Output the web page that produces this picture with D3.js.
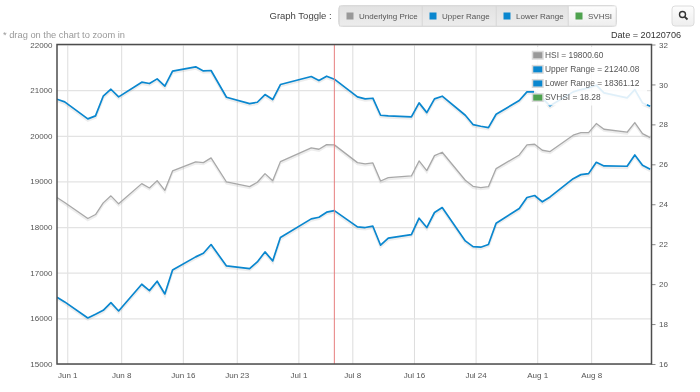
<!DOCTYPE html>
<html>
<head>
<meta charset="utf-8">
<script src="https://cdn.jsdelivr.net/npm/d3@7"></script>
<style>
    html, body { margin: 0; padding: 0; background: #fff; }
    svg { display: block; font-family: "Liberation Sans", Helvetica, Arial, sans-serif; filter: blur(0.3px); }
    .axis text { fill: #555; font-size: 8px; }
    .axis path { display: none; }
</style>
</head>
<body>
<div id="chart"></div>
<script>
const dates = ['05-31','06-01','06-04','06-05','06-06','06-07','06-08','06-11','06-12','06-13','06-14','06-15',
    '06-18','06-19','06-20','06-22','06-25','06-26','06-27','06-28','06-29','07-03','07-04','07-05','07-06',
    '07-09','07-10','07-11','07-12','07-13','07-16','07-17','07-18','07-19','07-20','07-23','07-24','07-25','07-26','07-27',
    '07-30','07-31','08-01','08-02','08-03','08-06','08-07','08-08','08-09','08-10','08-13','08-14','08-15','08-16'];
const hsi = [18648,18538,18187,18275,18530,18684,18509,18952,18857,19017,18805,19230,
    19427,19412,19515,18988,18886,18981,19171,19017,19434,19734,19705,19807,19800.6,
    19412,19383,19405,19010,19083,19120,19449,19237,19566,19639,19025,18893,18864,18886,19281,
    19580,19800,19815,19683,19654,20012,20070,20070,20268,20143,20078,20290,20049,19961];
const upper = [20801,20743,20370,20436,20867,21020,20852,21174,21145,21247,21086,21415,
    21510,21422,21430,20845,20706,20735,20903,20794,21123,21298,21210,21306,21240.08,
    20852,20808,20823,20450,20435,20414,20721,20508,20808,20867,20450,20246,20209,20180,20472,
    20772,20962,20962,20818,20656,20962,21013,21050,21108,20940,20830,21013,20720,20648];
const lower = [16462,16360,16009,16089,16177,16345,16162,16747,16608,16813,16535,17061,
    17347,17427,17617,17149,17090,17237,17456,17259,17770,18180,18216,18326,18361.12,
    18004,17990,18019,17602,17756,17836,18194,17990,18319,18428,17697,17573,17559,17617,18085,
    18406,18647,18691,18553,18660,19061,19149,19171,19420,19339,19332,19580,19354,19266];

const xTickLabels = ['Jun 1','Jun 8','Jun 16','Jun 23','Jul 1','Jul 8','Jul 16','Jul 24','Aug 1','Aug 8'];
const xTickDays = ['06-01','06-08','06-16','06-23','07-01','07-08','07-16','07-24','08-01','08-08'];
const leftTicks = [15000,16000,17000,18000,19000,20000,21000,22000];
const rightTicks = [16,18,20,22,24,26,28,30,32];
const selectedDate = '07-06';
const legendRows = [
    {label: 'HSI = 19800.60', color: '#999999'},
    {label: 'Upper Range = 21240.08', color: '#0a87cf'},
    {label: 'Lower Range = 18361.12', color: '#0a87cf'},
    {label: 'SVHSI = 18.28', color: '#4ea24e'}
];
const toggles = [
    {label: 'Underlying Price', color: '#999999', x0: 339, x1: 422},
    {label: 'Upper Range', color: '#0a87cf', x0: 422, x1: 496},
    {label: 'Lower Range', color: '#0a87cf', x0: 496, x1: 568},
    {label: 'SVHSI', color: '#4ea24e', x0: 568, x1: 616}
];

const parseDay = d3.utcParse('%Y-%m-%d');
const day = s => parseDay('2012-' + s);
// the flot plot draws its ticks about 8h after the data points (HK time)
const tickTime = s => d3.utcHour.offset(day(s), 8);

const width = 700, height = 392;
const plotLeft = 57, plotRight = 651.5, plotTop = 44.5, plotBottom = 364;

const svg = d3.select('#chart').append('svg')
    .attr('width', width)
    .attr('height', height);

const defs = svg.append('defs');
const grad = defs.append('linearGradient').attr('id', 'btn').attr('x1', 0).attr('x2', 0).attr('y1', 0).attr('y2', 1);
grad.append('stop').attr('offset', 0).attr('stop-color', '#e2e2e2');
grad.append('stop').attr('offset', 1).attr('stop-color', '#ececec');
const grad2 = defs.append('linearGradient').attr('id', 'btnLight').attr('x1', 0).attr('x2', 0).attr('y1', 0).attr('y2', 1);
grad2.append('stop').attr('offset', 0).attr('stop-color', '#fdfdfd');
grad2.append('stop').attr('offset', 1).attr('stop-color', '#eeeeee');
defs.append('clipPath').attr('id', 'plot').append('rect')
    .attr('x', plotLeft).attr('y', plotTop).attr('width', plotRight - plotLeft).attr('height', plotBottom - plotTop);

const x = d3.scaleUtc().domain([day('05-31'), d3.utcHour.offset(day('08-16'), 4)]).range([plotLeft, plotRight]);
const y = d3.scaleLinear().domain([15000, 22000]).range([plotBottom, plotTop]);
const y2 = d3.scaleLinear().domain([16, 32]).range([plotBottom, plotTop]);

// grid
svg.append('g').attr('class', 'axis')
    .attr('transform', `translate(0,${plotBottom})`)
    .call(d3.axisBottom(x)
        .tickValues(xTickDays.map(tickTime))
        .tickFormat((d, i) => xTickLabels[i])
        .tickSize(plotTop - plotBottom))
    .call(g => g.selectAll('line').attr('stroke', '#dddddd'))
    .call(g => g.selectAll('text').attr('y', 8.5).attr('dy', '0.71em'));

svg.append('g').attr('class', 'axis')
    .attr('transform', `translate(${plotLeft},0)`)
    .call(d3.axisLeft(y)
        .tickValues(leftTicks)
        .tickFormat(d3.format('d'))
        .tickSize(plotLeft - plotRight))
    .call(g => g.selectAll('line').attr('stroke', '#e3e3e3').attr('stroke-width', 1.2))
    .call(g => g.selectAll('text').attr('x', -4.5));

svg.append('g').attr('class', 'axis')
    .attr('transform', `translate(${plotRight},0)`)
    .call(d3.axisRight(y2)
        .tickValues(rightTicks)
        .tickSize(4)
        .tickPadding(3.5))
    .call(g => g.selectAll('line').attr('stroke', '#888888'));

// series
const line = d3.line()
    .x((d, i) => x(day(dates[i])))
    .y(d => y(d));

const plot = svg.append('g').attr('clip-path', 'url(#plot)');
[[hsi, '#a8a8a8', 1.3], [upper, '#0a87cf', 1.7], [lower, '#0a87cf', 1.7]].forEach(([values, color, w]) => {
    plot.append('path')
        .attr('d', line(values))
        .attr('fill', 'none')
        .attr('stroke', '#000')
        .attr('stroke-opacity', 0.07)
        .attr('stroke-width', w + 1)
        .attr('transform', 'translate(0,1.5)');
    plot.append('path')
        .attr('d', line(values))
        .attr('fill', 'none')
        .attr('stroke', color)
        .attr('stroke-linejoin', 'round')
        .attr('stroke-width', w);
});

// crosshair
svg.append('line')
    .attr('x1', x(day(selectedDate))).attr('x2', x(day(selectedDate)))
    .attr('y1', plotTop).attr('y2', plotBottom)
    .attr('stroke', '#e77f7f')
    .attr('stroke-width', 1);

// frame
svg.append('rect')
    .attr('x', plotLeft).attr('y', plotTop)
    .attr('width', plotRight - plotLeft).attr('height', plotBottom - plotTop)
    .attr('fill', 'none')
    .attr('stroke', '#4d4d4d')
    .attr('stroke-width', 1.5);

// legend
svg.append('rect')
    .attr('x', 534).attr('y', 47)
    .attr('width', 113).attr('height', 58.5)
    .attr('fill', '#fff').attr('fill-opacity', 0.87);

const legend = svg.append('g').selectAll('g')
    .data(legendRows)
    .join('g')
    .attr('transform', (d, i) => `translate(531,${50 + i * 14.1})`);
legend.append('rect')
    .attr('x', 1.5).attr('y', 1.5)
    .attr('width', 10.5).attr('height', 7.5)
    .attr('fill', d => d.color)
    .attr('stroke', '#dadada')
    .attr('stroke-width', 1.5);
legend.append('text')
    .attr('x', 14).attr('y', 8)
    .attr('font-size', 8.4)
    .attr('fill', '#555')
    .text(d => d.label);

// toggle buttons
svg.append('text').attr('x', 269.5).attr('y', 19).attr('font-size', 9.5).attr('fill', '#444').text('Graph Toggle :');

svg.append('rect')
    .attr('x', 338.5).attr('y', 5.5).attr('width', 278).attr('height', 21).attr('rx', 4)
    .attr('fill', '#e6e6e6').attr('stroke', '#dcdcdc');

const btn = svg.append('g').selectAll('g').data(toggles).join('g');
btn.append('rect')
    .attr('x', d => d.x0 + 0.5).attr('y', 6)
    .attr('width', d => d.x1 - d.x0 - 0.5).attr('height', 20)
    .attr('fill', (d, i) => i === 3 ? 'url(#btnLight)' : 'url(#btn)')
    .attr('stroke', '#d6d6d6').attr('stroke-width', 0.6);
btn.append('rect')
    .attr('x', d => d.x0 + 7.5).attr('y', 12.5)
    .attr('width', 7).attr('height', 7)
    .attr('fill', d => d.color);
btn.append('text')
    .attr('x', d => d.x0 + 20).attr('y', 18.5)
    .attr('font-size', 8)
    .attr('fill', '#555')
    .text(d => d.label);

// zoom button
svg.append('rect')
    .attr('x', 672).attr('y', 6).attr('width', 22).attr('height', 20).attr('rx', 3)
    .attr('fill', 'url(#btnLight)').attr('stroke', '#dcdcdc');
svg.append('circle')
    .attr('cx', 682.5).attr('cy', 14.5).attr('r', 3)
    .attr('fill', 'none').attr('stroke', '#333').attr('stroke-width', 1.4);
svg.append('line')
    .attr('x1', 684.8).attr('y1', 16.8).attr('x2', 687.5).attr('y2', 19.5)
    .attr('stroke', '#333').attr('stroke-width', 1.8);

svg.append('text').attr('x', 3).attr('y', 37.5).attr('font-size', 9.3).attr('fill', '#999').text('* drag on the chart to zoom in');
svg.append('text').attr('x', 611).attr('y', 37.5).attr('font-size', 9.1).attr('fill', '#333').text('Date = 20120706');
</script>
</body>
</html>
